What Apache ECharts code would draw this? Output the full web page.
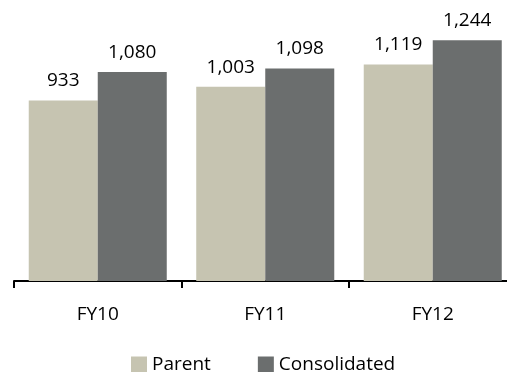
<!DOCTYPE html>
<html>
<head>
<meta charset="utf-8">
<script src="https://cdn.jsdelivr.net/npm/echarts@6/dist/echarts.min.js"></script>
<style>
  html, body { margin: 0; padding: 0; background: #fff; }
  #chart { width: 507px; height: 372px; }
</style>
</head>
<body>
<div id="chart"></div>
<script>
// Fiscal years and the two series plotted per year
const categories = ['FY10', 'FY11', 'FY12'];
const parentValues = [933, 1003, 1119];
const consolidatedValues = [1080, 1098, 1244];
const seriesNames = ['Parent', 'Consolidated'];

const FONT = '"Open Sans", "Liberation Sans", sans-serif';
const fmt = v => v.toLocaleString('en-US');

const chart = echarts.init(document.getElementById('chart'), null, { renderer: 'canvas' });

function barSeries(name, values, color) {
  return {
    name: name,
    type: 'bar',
    data: values,
    barGap: '0%',
    barCategoryGap: '17.6%',
    itemStyle: { color: color },
    label: {
      show: true,
      position: 'top',
      distance: 10,
      color: '#000',
      fontFamily: FONT,
      fontSize: 19,
      formatter: p => fmt(p.value)
    },
    emphasis: { disabled: true }
  };
}

chart.setOption({
  animation: false,
  backgroundColor: '#fff',
  // the plot area runs a little past the right edge of the canvas
  grid: {
    left: 14, width: 502.5, top: 10, bottom: 91,
    containLabel: false, outerBoundsMode: 'none'
  },
  xAxis: {
    type: 'category',
    data: categories,
    axisLine: { show: true, lineStyle: { color: '#000', width: 2 } },
    axisTick: { show: true, length: 7, lineStyle: { color: '#000', width: 2 } },
    axisLabel: { color: '#000', fontFamily: FONT, fontSize: 19, margin: 24 }
  },
  yAxis: {
    type: 'value',
    min: 0,
    max: 1400,
    show: false,
    splitLine: { show: false }
  },
  legend: {
    data: seriesNames,
    left: 131,
    top: 355,
    padding: 0,
    itemWidth: 16,
    itemHeight: 16,
    itemGap: 47,
    icon: 'rect',
    textStyle: { color: '#000', fontFamily: FONT, fontSize: 19 }
  },
  series: [
    barSeries(seriesNames[0], parentValues, '#C6C4B1'),
    barSeries(seriesNames[1], consolidatedValues, '#6B6E6E')
  ]
});
</script>
</body>
</html>
